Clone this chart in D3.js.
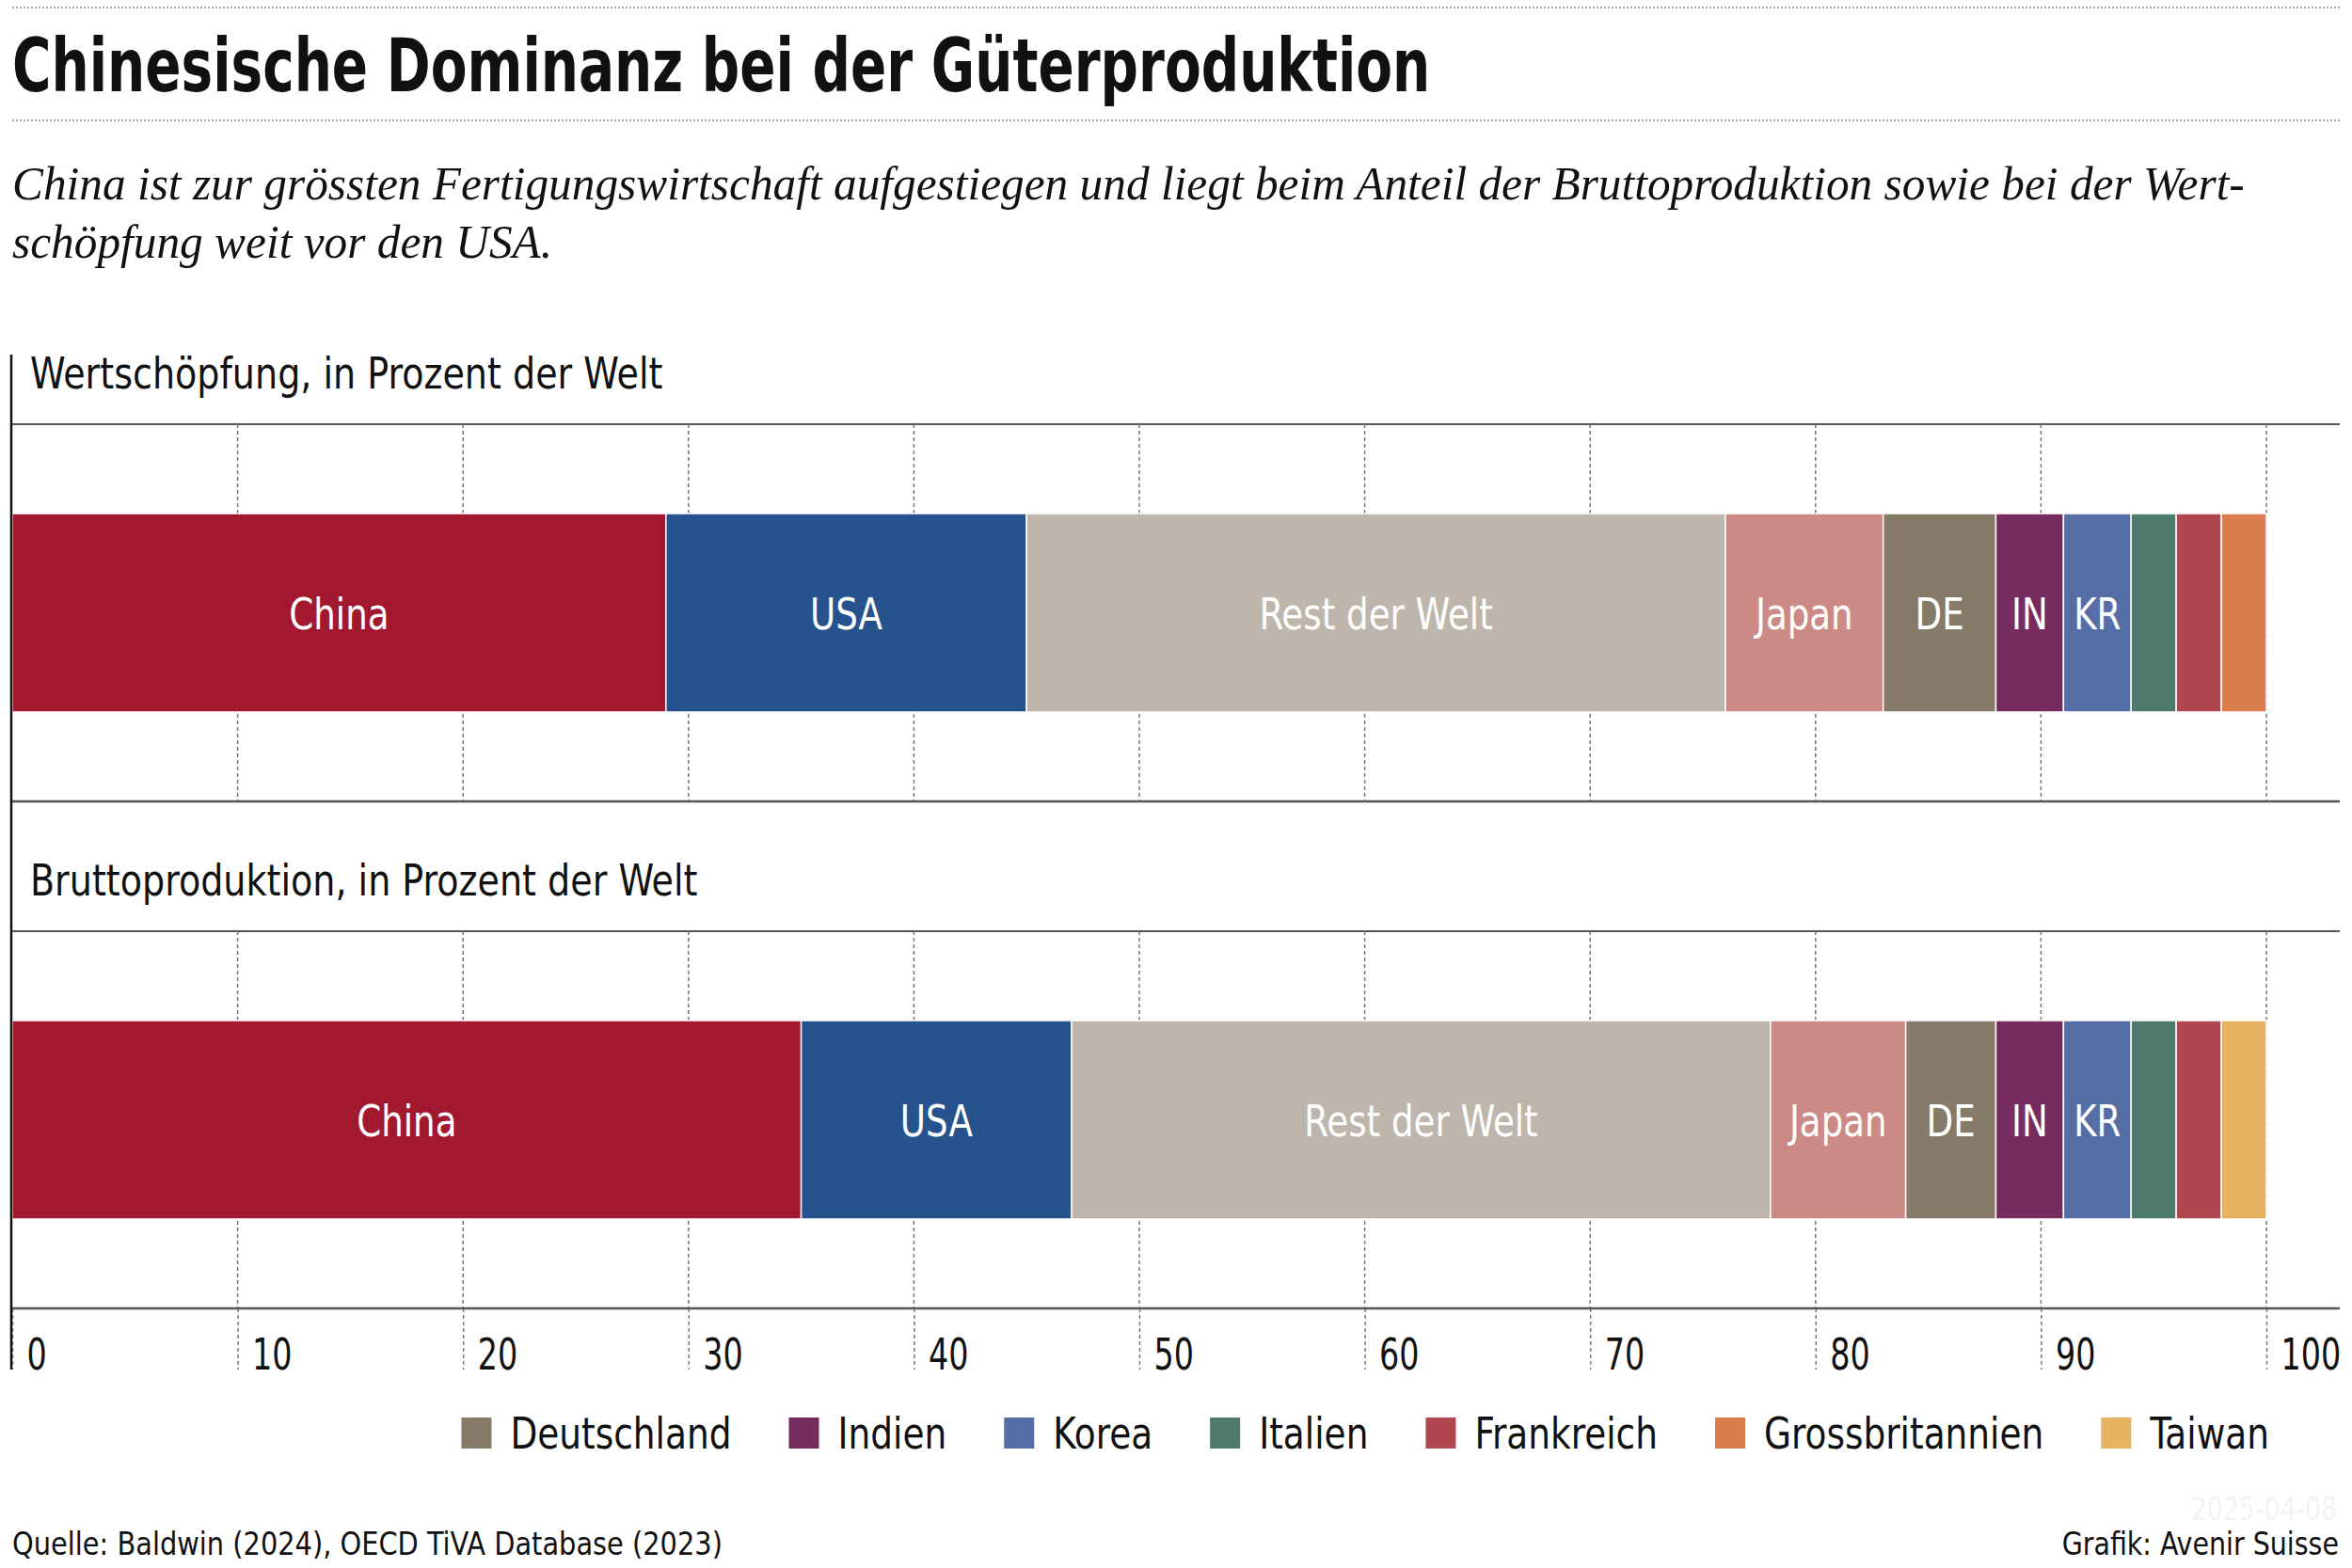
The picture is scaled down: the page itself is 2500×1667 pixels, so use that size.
<!DOCTYPE html>
<html>
<head>
<meta charset="utf-8">
<script src="https://cdn.jsdelivr.net/npm/d3@7"></script>
<style>
  body { margin: 0; background: #fff; }
  svg { display: block; }
</style>
</head>
<body>
<div id="chart"></div>
<script>
const titleText = "Chinesische Dominanz bei der Güterproduktion";
const subtitleLines = [
  "China ist zur grössten Fertigungswirtschaft aufgestiegen und liegt beim Anteil der Bruttoproduktion sowie bei der Wert-",
  "schöpfung weit vor den USA."
];
const panels = ["Wertschöpfung, in Prozent der Welt", "Bruttoproduktion, in Prozent der Welt"];
const segments = ["China", "USA", "Rest der Welt", "Japan", "Deutschland", "Indien", "Korea", "Italien", "Frankreich", "Grossbritannien", "Taiwan"];
const segmentLabels = ["China", "USA", "Rest der Welt", "Japan", "DE", "IN", "KR", "", "", "", ""];
const wertschoepfung = [29, 16, 31, 7, 5, 3, 3, 2, 2, 2, 0];
const bruttoproduktion = [35, 12, 31, 6, 4, 3, 3, 2, 2, 0, 2];
const colors = ["#a2182f", "#26538d", "#beb6ac", "#cc8a86", "#867a69", "#772c60", "#556ea5", "#4e7a6b", "#b04650", "#da7d4e", "#e5b262"];
const legendNames = ["Deutschland", "Indien", "Korea", "Italien", "Frankreich", "Grossbritannien", "Taiwan"];
const tickValues = [0, 10, 20, 30, 40, 50, 60, 70, 80, 90, 100];
const source = "Quelle: Baldwin (2024), OECD TiVA Database (2023)";
const credit = "Grafik: Avenir Suisse";
const stamp = "2025-04-08";

const width = 2500, height = 1667;
const sans = "'Liberation Sans Narrow', 'DejaVu Sans Condensed', 'Roboto Condensed', 'Noto Sans', sans-serif";
const serif = "'Liberation Serif', 'DejaVu Serif', serif";

// squeeze glyphs horizontally, the original uses a condensed face
function condense(sel, k) {
  sel.each(function() {
    const t = d3.select(this);
    const tx = +t.attr("x") || 0, ty = +t.attr("y") || 0;
    this.__w = this.getComputedTextLength() * k;
    t.attr("x", 0).attr("y", 0)
      .attr("transform", `translate(${tx},${ty}) scale(${k},1)`);
  });
  return sel;
}

const rows = panels.map((p, i) => {
  const vals = i === 0 ? wertschoepfung : bruttoproduktion;
  const row = { panel: p };
  segments.forEach((s, j) => row[s] = vals[j]);
  return row;
});

const color = d3.scaleOrdinal().domain(segments).range(colors);
const labelOf = d3.scaleOrdinal().domain(segments).range(segmentLabels);

const x = d3.scaleLinear().domain([0, 100]).range([13, 2409]);
const panelY = d3.scaleBand().domain(panels).range([451, 451 + 2 * 539]);
const barTop = 95, barH = 211, panelH = 401;

const svg = d3.select("#chart").append("svg")
  .attr("width", width).attr("height", height)
  .style("font-family", sans);

// header
svg.append("line").attr("x1", 13).attr("x2", 2487).attr("y1", 8).attr("y2", 8)
  .attr("stroke", "#888").attr("stroke-width", 1.5).attr("stroke-dasharray", "2,2");
svg.append("text").attr("x", 13).attr("y", 97)
  .attr("font-size", 78).attr("font-weight", "bold").attr("fill", "#111")
  .text(titleText)
  .call(condense, 0.805);
svg.append("line").attr("x1", 13).attr("x2", 2487).attr("y1", 128).attr("y2", 128)
  .attr("stroke", "#888").attr("stroke-width", 1.5).attr("stroke-dasharray", "2,2");

svg.append("g").selectAll("text").data(subtitleLines).join("text")
  .attr("x", 13).attr("y", (d, i) => 212 + i * 62)
  .style("font-family", serif).attr("font-style", "italic")
  .attr("font-size", 50).attr("fill", "#111")
  .text(d => d)
  .call(condense, 0.987);

// panels
const stack = d3.stack().keys(segments)(rows);

const panelG = svg.append("g");
panels.forEach(p => {
  const top = panelY(p);
  panelG.append("text").attr("x", 32).attr("y", top - 38)
    .attr("font-size", 46).attr("fill", "#111").text(p)
    .call(condense, 0.92);
  panelG.append("line").attr("x1", 13).attr("x2", 2487).attr("y1", top).attr("y2", top)
    .attr("stroke", "#555").attr("stroke-width", 2);
  panelG.append("g").selectAll("line").data(tickValues.filter(t => t > 0)).join("line")
    .attr("x1", d => x(d)).attr("x2", d => x(d))
    .attr("y1", top).attr("y2", top + panelH)
    .attr("stroke", "#777").attr("stroke-width", 1.5).attr("stroke-dasharray", "4,3");
});
panelG.append("line").attr("x1", 13).attr("x2", 2487)
  .attr("y1", panelY(panels[0]) + panelH).attr("y2", panelY(panels[0]) + panelH)
  .attr("stroke", "#555").attr("stroke-width", 2.5);

const layer = svg.append("g").selectAll("g").data(stack).join("g")
  .attr("fill", d => color(d.key));

layer.selectAll("rect").data(d => d.filter(s => s[1] > s[0]).map(s => ({ key: d.key, s })))
  .join("rect")
  .attr("x", d => x(d.s[0]))
  .attr("width", d => x(d.s[1]) - x(d.s[0]))
  .attr("y", d => panelY(d.s.data.panel) + barTop)
  .attr("height", barH)
  .attr("stroke", "#fff").attr("stroke-width", 1.5);

layer.selectAll("text").data(d => d.filter(s => s[1] > s[0] && labelOf(d.key)).map(s => ({ key: d.key, s })))
  .join("text")
  .attr("x", d => (x(d.s[0]) + x(d.s[1])) / 2)
  .attr("y", d => panelY(d.s.data.panel) + barTop + barH / 2 + 17)
  .attr("text-anchor", "middle").attr("fill", "#fff").attr("font-size", 47)
  .text(d => labelOf(d.key))
  .call(condense, 0.88);

// x axis
const axisY = panelY(panels[1]) + panelH;
const axis = svg.append("g").attr("transform", `translate(0,${axisY})`)
  .call(d3.axisBottom(x).tickValues(tickValues).tickSize(65).tickPadding(0).tickFormat(d3.format("d")));
axis.select(".domain").remove();
axis.selectAll(".tick line").attr("stroke", "#777").attr("stroke-width", 1.5).attr("stroke-dasharray", "4,3");
axis.selectAll(".tick text")
  .attr("text-anchor", "start").attr("x", 15).attr("y", 65).attr("dy", null)
  .style("font-family", sans).attr("font-size", 47).attr("fill", "#111")
  .call(condense, 0.79);
svg.append("line").attr("x1", 13).attr("x2", 2487).attr("y1", axisY).attr("y2", axisY)
  .attr("stroke", "#555").attr("stroke-width", 2.5);

// left axis line
svg.append("line").attr("x1", 12).attr("x2", 12).attr("y1", 377).attr("y2", axisY + 65)
  .attr("stroke", "#111").attr("stroke-width", 2.5);

// legend, right aligned near 100
const legend = svg.append("g");
const items = legend.selectAll("g").data(legendNames).join("g");
items.append("rect").attr("width", 32).attr("height", 33).attr("y", 1507)
  .attr("fill", d => color(d));
items.append("text").attr("x", 52).attr("y", 1540).attr("font-size", 46).attr("fill", "#111")
  .text(d => d)
  .call(condense, 0.905);
let cursor = 0;
const offsets = [];
items.each(function() {
  offsets.push(cursor);
  cursor += 52 + this.querySelector("text").__w + 61;
});
const legendStart = x(100) + 3 - (cursor - 61);
items.attr("transform", (d, i) => `translate(${legendStart + offsets[i]},0)`);

// footer
svg.append("text").attr("x", 13).attr("y", 1653).attr("font-size", 33).attr("fill", "#111").text(source)
  .call(condense, 0.972);
svg.append("text").attr("x", 2486).attr("y", 1653).attr("text-anchor", "end")
  .attr("font-size", 33).attr("fill", "#111").text(credit)
  .call(condense, 0.96);
svg.append("text").attr("x", 2484).attr("y", 1616).attr("text-anchor", "end")
  .attr("font-size", 33).attr("fill", "#f3f3f3").text(stamp)
  .call(condense, 0.9);
</script>
</body>
</html>
